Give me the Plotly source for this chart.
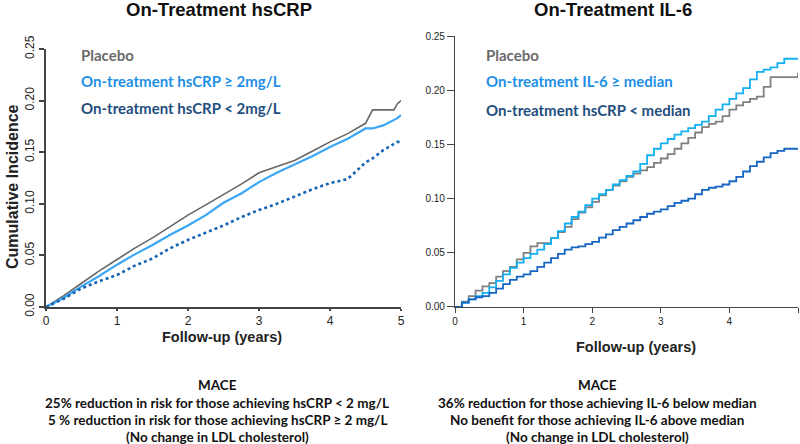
import plotly.graph_objects as go

# ---------------- Left panel: On-Treatment hsCRP ----------------
left_years = [0, 0.25, 0.5, 0.75, 1.0, 1.25, 1.5, 1.75, 2.0, 2.25, 2.5, 2.75, 3.0,
              3.25, 3.5, 3.75, 4.0, 4.25, 4.5, 4.6, 4.75, 4.9, 4.95, 5.0]
left_placebo = [0, 0.011, 0.023, 0.035, 0.046, 0.057, 0.067, 0.078, 0.089, 0.099, 0.109,
                0.119, 0.130, 0.136, 0.142, 0.151, 0.160, 0.168, 0.178, 0.191, 0.191, 0.191, 0.197, 0.200]
left_high = [0, 0.009, 0.020, 0.030, 0.041, 0.051, 0.060, 0.070, 0.079, 0.089, 0.101,
             0.110, 0.121, 0.130, 0.138, 0.146, 0.155, 0.163, 0.173, 0.173, 0.176, 0.181, 0.183, 0.186]
left_low = [0, 0.008, 0.018, 0.025, 0.031, 0.040, 0.047, 0.057, 0.065, 0.072, 0.079,
            0.087, 0.094, 0.100, 0.107, 0.114, 0.120, 0.124, 0.140, 0.144, 0.152, 0.158, 0.160, 0.160]

# ---------------- Right panel: On-Treatment IL-6 ----------------
right_years = [0, 0.1, 0.2, 0.3, 0.4, 0.5, 0.6, 0.7, 0.8, 0.9, 1.0, 1.1, 1.2, 1.3, 1.4, 1.5, 1.6,
               1.7, 1.8, 1.9, 2.0, 2.1, 2.2, 2.3, 2.4, 2.5, 2.6, 2.7, 2.8, 2.9, 3.0, 3.1, 3.2,
               3.3, 3.4, 3.5, 3.6, 3.7, 3.8, 3.9, 4.0, 4.1, 4.2, 4.3, 4.4, 4.5, 4.6, 4.7, 4.8,
               4.9, 5.0]
right_placebo = [0, 0.005, 0.010, 0.015, 0.019, 0.022, 0.028, 0.033, 0.037, 0.044, 0.050,
                 0.056, 0.059, 0.059, 0.0635, 0.069, 0.074, 0.081, 0.087, 0.092, 0.097, 0.103,
                 0.108, 0.112, 0.116, 0.120, 0.123, 0.126, 0.129, 0.133, 0.137, 0.141, 0.146,
                 0.151, 0.156, 0.161, 0.166, 0.169, 0.171, 0.176, 0.182, 0.186, 0.189, 0.192,
                 0.194, 0.203, 0.212, 0.212, 0.212, 0.212, 0.216]
right_high = [0, 0.004, 0.007, 0.010, 0.013, 0.018, 0.024, 0.030, 0.036, 0.041, 0.045,
              0.049, 0.053, 0.058, 0.0635, 0.070, 0.077, 0.083, 0.088, 0.094, 0.100, 0.104,
              0.108, 0.113, 0.117, 0.121, 0.125, 0.132, 0.140, 0.146, 0.151, 0.155, 0.159,
              0.162, 0.165, 0.168, 0.171, 0.176, 0.182, 0.187, 0.192, 0.197, 0.202, 0.210,
              0.217, 0.219, 0.221, 0.225, 0.229, 0.229, 0.229]
right_low = [0, 0.004, 0.007, 0.009, 0.010, 0.013, 0.017, 0.021, 0.025, 0.028, 0.030,
             0.033, 0.037, 0.041, 0.045, 0.049, 0.053, 0.055, 0.056, 0.058, 0.060, 0.064,
             0.067, 0.071, 0.074, 0.077, 0.080, 0.083, 0.086, 0.088, 0.090, 0.093, 0.096,
             0.098, 0.100, 0.104, 0.108, 0.110, 0.111, 0.113, 0.116, 0.120, 0.125, 0.130,
             0.134, 0.138, 0.142, 0.144, 0.146, 0.146, 0.146]

x_ticks = [0, 1, 2, 3, 4, 5]
y_ticks = [0, 0.05, 0.10, 0.15, 0.20, 0.25]
y_tick_text = ["0.00", "0.05", "0.10", "0.15", "0.20", "0.25"]

left_legend = ["Placebo", "On-treatment hsCRP ≥ 2mg/L", "On-treatment hsCRP < 2mg/L"]
right_legend = ["Placebo", "On-treatment IL-6 ≥ median", "On-treatment hsCRP < median"]
left_note = ["MACE", "25% reduction in risk for those achieving hsCRP < 2 mg/L",
             "5 % reduction in risk for those achieving hsCRP ≥ 2 mg/L", "(No change in LDL cholesterol)"]
right_note = ["MACE", "36% reduction for those achieving IL-6 below median",
              "No benefit for those achieving IL-6 above median", "(No change in LDL cholesterol)"]

fig = go.Figure()

fig.add_trace(go.Scatter(x=left_years, y=left_placebo, mode="lines", xaxis="x", yaxis="y",
                         line=dict(color="#666666", width=1.6), showlegend=False))
fig.add_trace(go.Scatter(x=left_years, y=left_high, mode="lines", xaxis="x", yaxis="y",
                         line=dict(color="#3aa6f5", width=2.2), showlegend=False))
fig.add_trace(go.Scatter(x=left_years, y=left_low, mode="lines", xaxis="x", yaxis="y",
                         line=dict(color="#1864b4", width=2.6, dash="dot"), showlegend=False))

fig.add_trace(go.Scatter(x=right_years, y=right_placebo, mode="lines", xaxis="x2", yaxis="y2",
                         line=dict(color="#808080", width=1.8, shape="hv"), showlegend=False))
fig.add_trace(go.Scatter(x=right_years, y=right_high, mode="lines", xaxis="x2", yaxis="y2",
                         line=dict(color="#12b0f2", width=1.8, shape="hv"), showlegend=False))
fig.add_trace(go.Scatter(x=right_years, y=right_low, mode="lines", xaxis="x2", yaxis="y2",
                         line=dict(color="#1566c4", width=1.8, shape="hv"), showlegend=False))

fig.update_layout(
    template="none",
    width=800, height=444, margin=dict(l=0, r=0, t=0, b=0, autoexpand=False),
    paper_bgcolor="white", plot_bgcolor="white",
    font=dict(family="Arial", color="#222"),
    hovermode=False,
    xaxis=dict(domain=[46 / 800, 401 / 800], range=[0, 5], tickvals=x_ticks, automargin=False,
               showline=True, linecolor="#444", linewidth=2, showgrid=False, zeroline=False,
               ticks="outside", ticklen=2, tickcolor="#444", tickwidth=1.5,
               tickfont=dict(size=12, family="Arial", color="#222"), anchor="y"),
    yaxis=dict(domain=[0.3086, 0.8896], range=[0, 0.25], tickvals=y_ticks, ticktext=y_tick_text,
               tickangle=-90, showline=True, linecolor="#444", linewidth=2, showgrid=False,
               automargin=False,
               zeroline=False, ticks="outside", ticklen=5, tickcolor="#444", tickwidth=1.5,
               tickfont=dict(size=12, family="Arial", color="#222"), anchor="x"),
    xaxis2=dict(domain=[455 / 800, 798 / 800], range=[0, 5], tickvals=x_ticks, automargin=False,
                showline=True, linecolor="#444", linewidth=1.3, showgrid=False, zeroline=False,
                ticks="outside", ticklen=5, tickcolor="#444", tickwidth=1.3,
                tickfont=dict(size=10, family="Arial", color="#222"), anchor="y2"),
    yaxis2=dict(domain=[0.3086, 0.9189], range=[0, 0.25], tickvals=y_ticks, ticktext=y_tick_text,
                automargin=False,
                showline=True, linecolor="#444", linewidth=1.3, showgrid=False, zeroline=False,
                ticks="outside", ticklen=7, tickcolor="#444", tickwidth=1.3,
                tickfont=dict(size=10, family="Arial", color="#222"), anchor="x2"),
)


def note(text, px, py, size, family, color, xanchor="center", angle=0):
    return dict(text=text, x=px / 800, y=1 - py / 444, xref="paper", yref="paper",
                xanchor=xanchor, yanchor="middle", textangle=angle, showarrow=False,
                font=dict(size=size, family=family, color=color))


ann = []
ann.append(note("<b>On-Treatment hsCRP</b>", 219, 9, 18.5, "Arial", "#111"))
ann.append(note("<b>On-Treatment IL-6</b>", 613, 9, 18.5, "Arial", "#111"))
ann.append(note("<b>Cumulative Incidence</b>", 12, 187, 16, "Arial", "#222", angle=-90))
ann.append(note("<b>Follow-up (years)</b>", 222, 337, 14.5, "Arial", "#222"))
ann.append(note("<b>Follow-up (years)</b>", 636, 347, 14.5, "Arial", "#222"))
leg_colors = ["#6a6a6a", "#1e8fe6", "#1f4e7e"]
for t, c, yy in zip(left_legend, leg_colors, [55, 81, 108]):
    ann.append(note("<b>" + t + "</b>", 79, yy, 15, "Lato", c, xanchor="left"))
for t, c, yy in zip(right_legend, leg_colors, [55, 81, 110]):
    ann.append(note("<b>" + t + "</b>", 484, yy, 15, "Lato", c, xanchor="left"))
for t, yy in zip(left_note, [385, 403, 420, 437]):
    ann.append(note("<b>" + t + "</b>", 217, yy, 13.5, "Lato", "#111"))
for t, yy in zip(right_note, [385, 403, 420, 437]):
    ann.append(note("<b>" + t + "</b>", 597, yy, 13.5, "Lato", "#111"))
fig.update_layout(annotations=ann)

fig.write_html("out.html", config={"displayModeBar": False},
               post_script="document.body.style.margin='0px';")
